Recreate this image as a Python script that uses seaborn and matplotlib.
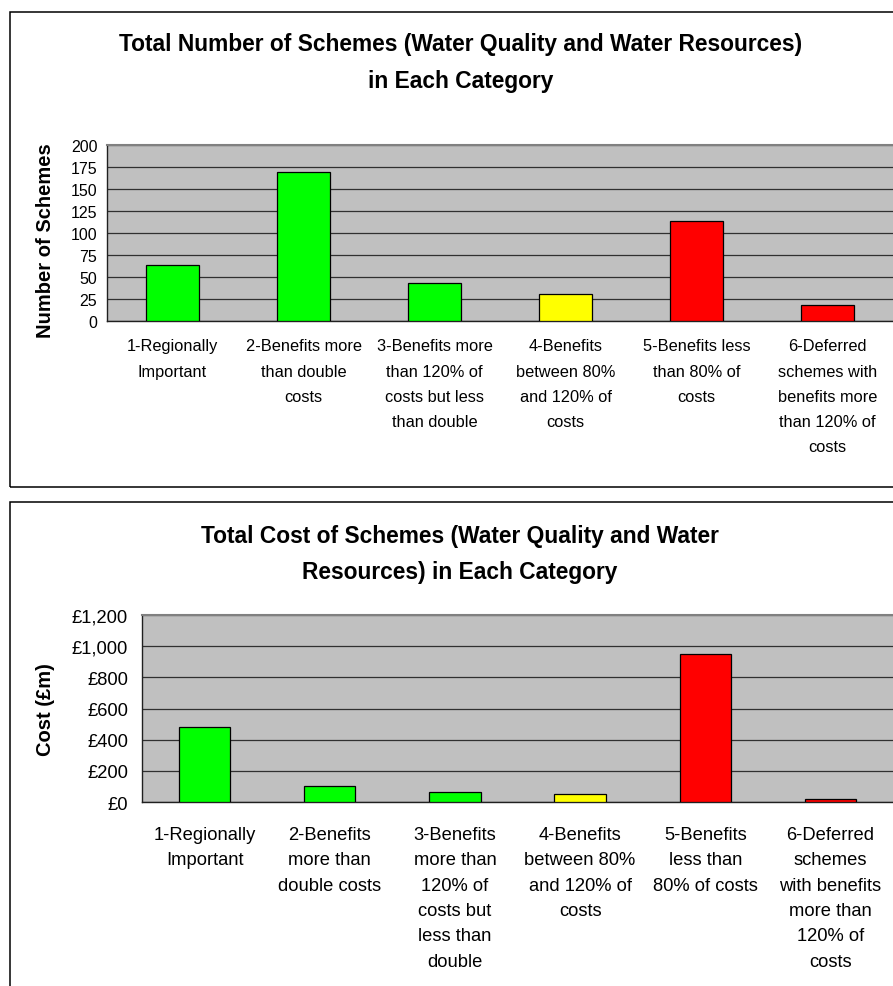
import matplotlib
matplotlib.use("Agg")
import matplotlib.pyplot as plt
from matplotlib.patches import Rectangle
import seaborn as sns

# ---- data -------------------------------------------------------------
count_labels = [
    "1-Regionally\nImportant",
    "2-Benefits more\nthan double\ncosts",
    "3-Benefits more\nthan 120% of\ncosts but less\nthan double",
    "4-Benefits\nbetween 80%\nand 120% of\ncosts",
    "5-Benefits less\nthan 80% of\ncosts",
    "6-Deferred\nschemes with\nbenefits more\nthan 120% of\ncosts",
]
cost_labels = [
    "1-Regionally\nImportant",
    "2-Benefits\nmore than\ndouble costs",
    "3-Benefits\nmore than\n120% of\ncosts but\nless than\ndouble",
    "4-Benefits\nbetween 80%\nand 120% of\ncosts",
    "5-Benefits\nless than\n80% of costs",
    "6-Deferred\nschemes\nwith benefits\nmore than\n120% of\ncosts",
]
scheme_counts = [64, 169, 43, 31, 114, 18]
scheme_costs = [484, 100, 61, 53, 950, 22]
bar_colors = ["#00FF00", "#00FF00", "#00FF00", "#FFFF00", "#FF0000", "#FF0000"]

count_ticks = [0, 25, 50, 75, 100, 125, 150, 175, 200]
cost_ticks = [0, 200, 400, 600, 800, 1000, 1200]
cost_tick_labels = ["£0", "£200", "£400", "£600", "£800", "£1,000", "£1,200"]

title_top = ["Total Number of Schemes (Water Quality and Water Resources)",
             "in Each Category"]
title_bottom = ["Total Cost of Schemes (Water Quality and Water",
                "Resources) in Each Category"]

# ---- style ------------------------------------------------------------
sns.set_style("white")
plt.rcParams["font.family"] = ["Liberation Sans", "DejaVu Sans"]
plt.rcParams["text.color"] = "black"
plt.rcParams["axes.labelcolor"] = "black"
plt.rcParams["xtick.color"] = "black"
plt.rcParams["ytick.color"] = "black"

W, H = 893, 987
fig = plt.figure(figsize=(W / 100, H / 100), dpi=100)


def fx(px):
    return px / W


def fy(py):
    return 1 - py / H


# chart frames
fig.patches.append(Rectangle((fx(10), fy(488)), 1.2, fy(13) - fy(488),
                             transform=fig.transFigure, fill=False,
                             edgecolor="#000000", linewidth=1.1))
fig.patches.append(Rectangle((fx(10), -0.05), 1.2, fy(503) + 0.05,
                             transform=fig.transFigure, fill=False,
                             edgecolor="#000000", linewidth=1.1))


def draw_panel(rect, labels, values, ticks, tick_labels, ylabel,
               ytick_size, ytick_pad, xtick_size, xpad, xspacing, ylabel_xy):
    ax = fig.add_axes(rect)
    ax.set_facecolor("#C0C0C0")
    sns.barplot(x=list(range(len(values))), y=values, hue=list(range(len(values))),
                palette=bar_colors, legend=False, width=0.41,
                edgecolor="black", linewidth=0.9, saturation=1, ax=ax, zorder=3)
    ax.set_xlim(-0.5, len(values) - 0.5)
    ax.set_ylim(ticks[0], ticks[-1])
    ax.set_yticks(ticks)
    ax.set_yticklabels(tick_labels, fontsize=ytick_size)
    ax.yaxis.grid(True, color="#303030", linewidth=0.9, zorder=1)
    ax.set_axisbelow(True)
    # category labels in the middle, tick marks at category boundaries
    ax.set_xticks(range(len(values)))
    ax.set_xticklabels(labels, fontsize=xtick_size, linespacing=xspacing,
                       va="top", ha="center", multialignment="center")
    ax.tick_params(axis="x", which="major", length=0, pad=xpad)
    ax.set_xticks([i - 0.5 for i in range(len(values) + 1)], minor=True)
    ax.tick_params(axis="x", which="minor", length=5, width=0.9, color="#404040",
                   direction="out")
    ax.tick_params(axis="y", length=5, width=0.9, color="#404040",
                   direction="out", pad=ytick_pad)
    ax.set_xlabel("")
    ax.set_ylabel(ylabel, fontsize=14.5, fontweight="bold")
    ax.yaxis.set_label_coords(*ylabel_xy)
    for side in ("left", "bottom"):
        ax.spines[side].set_color("#202020")
        ax.spines[side].set_linewidth(1.0)
    ax.spines["top"].set_color("#808080")
    ax.spines["top"].set_linewidth(1.5)
    ax.spines["right"].set_visible(False)
    return ax


ax1 = draw_panel([fx(107), fy(322), fx(893) - fx(107), fy(146) - fy(322)],
                 count_labels, scheme_counts, count_ticks,
                 [str(t) for t in count_ticks], "Number of Schemes",
                 11.5, 2, 11.8, 12.5, 1.85,
                 ((55 - 107) / (893 - 107), 0.46))
ax2 = draw_panel([fx(142), fy(803), fx(893) - fx(142), fy(616) - fy(803)],
                 cost_labels, scheme_costs, cost_ticks, cost_tick_labels,
                 "Cost (£m)", 13.2, 5, 13.2, 17, 1.65,
                 ((55 - 142) / (893 - 142), 0.5))

# titles
for text, base in zip(title_top, (51.5, 88)):
    fig.text(fx(461), fy(base), text, ha="center", va="baseline",
             fontsize=16.4, fontweight="bold")
for text, base in zip(title_bottom, (543, 579)):
    fig.text(fx(460), fy(base), text, ha="center", va="baseline",
             fontsize=16.4, fontweight="bold")

fig.savefig("out.png", dpi=100)
